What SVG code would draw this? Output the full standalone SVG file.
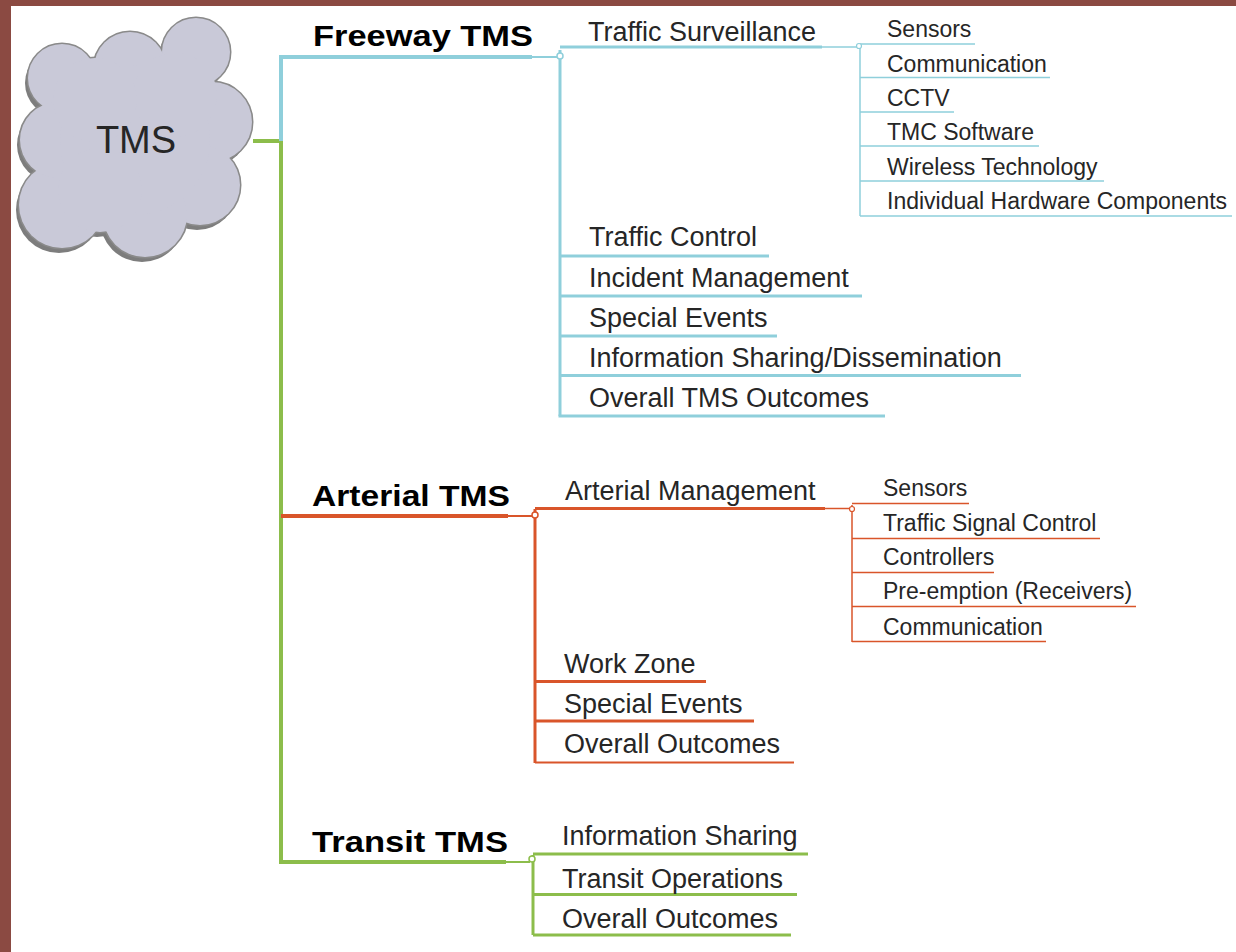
<svg xmlns="http://www.w3.org/2000/svg" width="1236" height="952" viewBox="0 0 1236 952">
<style>
.t{font-family:"Liberation Sans",Arial,sans-serif;fill:#262626}
.h{font-size:30px;font-weight:bold;fill:#000}
.c{font-size:27px}
.s{font-size:23px}
.b{stroke:#8fcfdb;fill:none}
.o{stroke:#d9552a;fill:none}
.g{stroke:#8cbd4b;fill:none}
.k{fill:#fff}
</style>
<defs>
  <g id="blob">
    <circle cx="62" cy="78" r="34"/><circle cx="130" cy="68" r="36"/><circle cx="196" cy="52" r="34"/>
    <circle cx="212" cy="122" r="40"/><circle cx="200" cy="185" r="40"/><circle cx="145" cy="215" r="42"/>
    <circle cx="62" cy="205" r="43"/><circle cx="58" cy="140" r="38"/><circle cx="135" cy="140" r="75"/>
    <circle cx="175" cy="95" r="42"/><circle cx="95" cy="100" r="42"/><circle cx="100" cy="190" r="42"/>
  </g>
</defs>
<rect x="0" y="0" width="1236" height="952" fill="#fff"/>
<rect x="0" y="0" width="1236" height="6" fill="#8b4a42"/>
<rect x="0" y="0" width="11" height="952" fill="#8b4a42"/>

<g id="connectors">
  <path class="g" stroke-width="4" d="M253,141 H281 V862 H506"/>
  <path class="g" stroke-width="2" d="M506,862 H530"/>
  <path class="b" stroke-width="4" d="M281,141 V57 H532"/>
  <path class="b" stroke-width="2" d="M532,57 H557"/>
  <path class="b" stroke-width="3" d="M560,50 V416"/>
  <path class="b" stroke-width="3" d="M560,47 H822"/>
  <path class="b" stroke-width="1.5" d="M822,47 H857"/>
  <path class="b" stroke-width="1.5" d="M860,44 V216"/>
  <path class="b" stroke-width="1.5" d="M860,44 H975 M860,77.5 H1050 M860,112 H954 M860,146 H1039 M860,181 H1104 M860,216 H1232"/>
  <path class="b" stroke-width="3" d="M560,256 H769 M560,296 H862 M560,336 H777 M560,375.5 H1021 M558.5,416 H885"/>
  <circle class="b k" stroke-width="1.5" cx="560" cy="56" r="3"/>
  <circle class="b k" stroke-width="1.2" cx="859" cy="46" r="2.5"/>
  <path class="o" stroke-width="4" d="M281,516 H508"/>
  <path class="o" stroke-width="2" d="M508,516 H532"/>
  <path class="o" stroke-width="3" d="M535,509 V763"/>
  <path class="o" stroke-width="3" d="M535,508.5 H825"/>
  <path class="o" stroke-width="1.5" d="M825,508.5 H850"/>
  <path class="o" stroke-width="1.5" d="M852,505 V642"/>
  <path class="o" stroke-width="1.5" d="M852,503.5 H969 M852,538.5 H1100 M852,572.5 H994 M852,606.5 H1136 M852,641.5 H1046"/>
  <path class="o" stroke-width="3" d="M535,681.5 H706 M535,721 H754"/>
  <path class="o" stroke-width="2" d="M535,762.5 H794"/>
  <circle class="o k" stroke-width="1.5" cx="535" cy="515" r="3"/>
  <circle class="o k" stroke-width="1.2" cx="852" cy="509" r="2.5"/>
  <path class="g" stroke-width="3" d="M533,855 V935"/>
  <path class="g" stroke-width="3" d="M533,854 H808 M533,894.5 H797 M533,935 H791"/>
  <circle class="g k" stroke-width="1.5" cx="532" cy="859" r="3"/>
</g>

<g id="tms">
  <use href="#blob" fill="#7d7d7d" transform="translate(-3,5)"/>
  <use href="#blob" fill="#c9c9d8" stroke="#8a8a8a" stroke-width="3"/>
  <use href="#blob" fill="#c9c9d8"/>
  <text class="t" x="136" y="152.5" font-size="38" text-anchor="middle" fill="#111">TMS</text>
</g>

<g id="freeway">
  <text class="t h" x="313" y="45.5" textLength="220" lengthAdjust="spacingAndGlyphs">Freeway TMS</text>
</g>
<g id="traffic-surveillance"><text class="t c" x="588" y="40.5">Traffic Surveillance</text></g>
<g id="fw-sub">
  <text class="t s" x="887" y="36.5">Sensors</text>
  <text class="t s" x="887" y="71.5">Communication</text>
  <text class="t s" x="887" y="106">CCTV</text>
  <text class="t s" x="887" y="140">TMC Software</text>
  <text class="t s" x="887" y="175">Wireless Technology</text>
  <text class="t s" x="887" y="209">Individual Hardware Components</text>
</g>
<g id="fw-children">
  <text class="t c" x="589" y="246">Traffic Control</text>
  <text class="t c" x="589" y="286.5">Incident Management</text>
  <text class="t c" x="589" y="326.5">Special Events</text>
  <text class="t c" x="589" y="366.5">Information Sharing/Dissemination</text>
  <text class="t c" x="589" y="406.5">Overall TMS Outcomes</text>
</g>

<g id="arterial">
  <text class="t h" x="312" y="505.5" textLength="198" lengthAdjust="spacingAndGlyphs">Arterial TMS</text>
</g>
<g id="arterial-management"><text class="t c" x="565" y="500">Arterial Management</text></g>
<g id="ar-sub">
  <text class="t s" x="883" y="496">Sensors</text>
  <text class="t s" x="883" y="530.5">Traffic Signal Control</text>
  <text class="t s" x="883" y="565">Controllers</text>
  <text class="t s" x="883" y="599">Pre-emption (Receivers)</text>
  <text class="t s" x="883" y="634.5">Communication</text>
</g>
<g id="ar-children">
  <text class="t c" x="564" y="673">Work Zone</text>
  <text class="t c" x="564" y="712.5">Special Events</text>
  <text class="t c" x="564" y="753">Overall Outcomes</text>
</g>

<g id="transit">
  <text class="t h" x="312" y="852" textLength="196" lengthAdjust="spacingAndGlyphs">Transit TMS</text>
</g>
<g id="tr-children">
  <text class="t c" x="562" y="845">Information Sharing</text>
  <text class="t c" x="562" y="887.5">Transit Operations</text>
  <text class="t c" x="562" y="928">Overall Outcomes</text>
</g>
</svg>
